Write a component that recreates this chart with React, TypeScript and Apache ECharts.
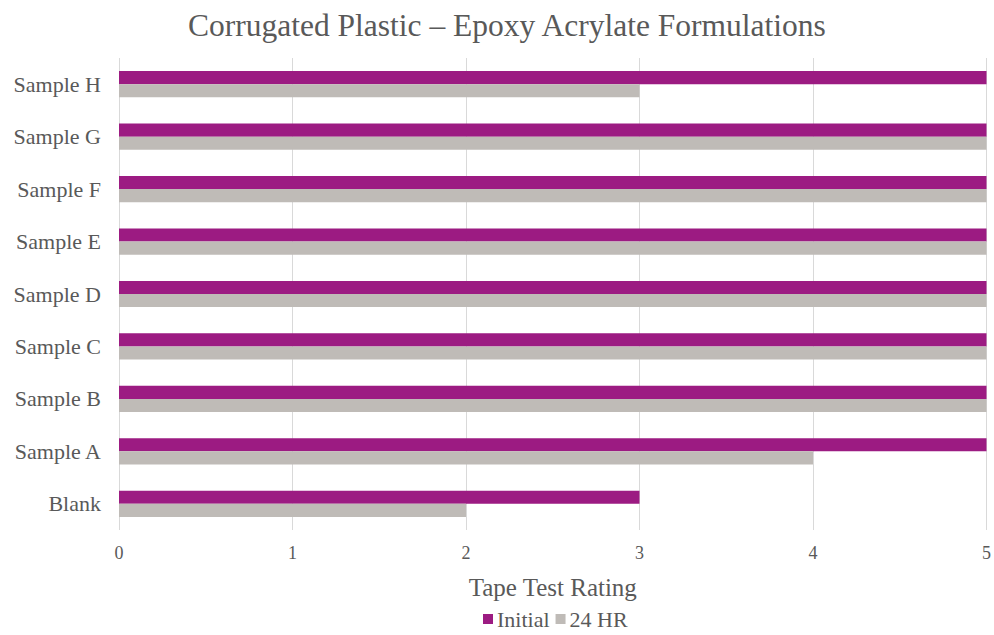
import React, { useEffect, useRef } from "react";
import * as echarts from "echarts";

const categories = [
  "Blank",
  "Sample A",
  "Sample B",
  "Sample C",
  "Sample D",
  "Sample E",
  "Sample F",
  "Sample G",
  "Sample H",
];
const initialValues = [3, 5, 5, 5, 5, 5, 5, 5, 5];
const after24hValues = [2, 4, 5, 5, 5, 5, 5, 5, 3];

const FONT = "'Liberation Serif', 'Times New Roman', serif";
const TEXT = "#595959";

export default function App() {
  const ref = useRef<HTMLDivElement>(null);

  useEffect(() => {
    if (!ref.current) return;
    const chart = echarts.init(ref.current, undefined, { renderer: "svg" });
    chart.setOption({
      animation: false,
      backgroundColor: "#ffffff",
      title: {
        text: "Corrugated Plastic – Epoxy Acrylate Formulations",
        left: 183,
        top: 4,
        textStyle: { fontFamily: FONT, fontSize: 31.5, fontWeight: "normal", color: TEXT },
      },
      legend: {
        data: ["Initial", "24 HR"],
        left: 481,
        top: 606,
        itemWidth: 10,
        itemHeight: 10,
        itemGap: 6,
        icon: "rect",
        padding: 2,
        textStyle: { fontFamily: FONT, fontSize: 22, color: TEXT, padding: [0, 0, 0, -1] },
      },
      grid: { left: 119, right: 6, top: 58, bottom: 105 },
      xAxis: {
        type: "value",
        min: 0,
        max: 5,
        interval: 1,
        name: "Tape Test Rating",
        nameLocation: "middle",
        nameGap: 45,
        nameTextStyle: { fontFamily: FONT, fontSize: 25, color: TEXT },
        axisLine: { show: false },
        axisTick: { show: false },
        axisLabel: { fontFamily: FONT, fontSize: 18, color: TEXT, margin: 14 },
        splitLine: { show: true, lineStyle: { color: "#d9d9d9", width: 1 } },
      },
      yAxis: {
        type: "category",
        data: categories,
        axisLine: { show: false },
        axisTick: { show: false },
        axisLabel: { fontFamily: FONT, fontSize: 22, color: TEXT, margin: 18 },
        splitLine: { show: false },
      },
      series: [
        {
          name: "Initial",
          type: "bar",
          data: initialValues,
          itemStyle: { color: "#9c1b82" },
          barGap: "0%",
          barCategoryGap: "50%",
        },
        {
          name: "24 HR",
          type: "bar",
          data: after24hValues,
          itemStyle: { color: "#bfbbb7" },
          barGap: "0%",
          barCategoryGap: "50%",
        },
      ],
    });
    return () => chart.dispose();
  }, []);

  return (
    <div
      ref={ref}
      style={{ position: "fixed", left: 0, top: 0, width: 994, height: 635 }}
    />
  );
}
